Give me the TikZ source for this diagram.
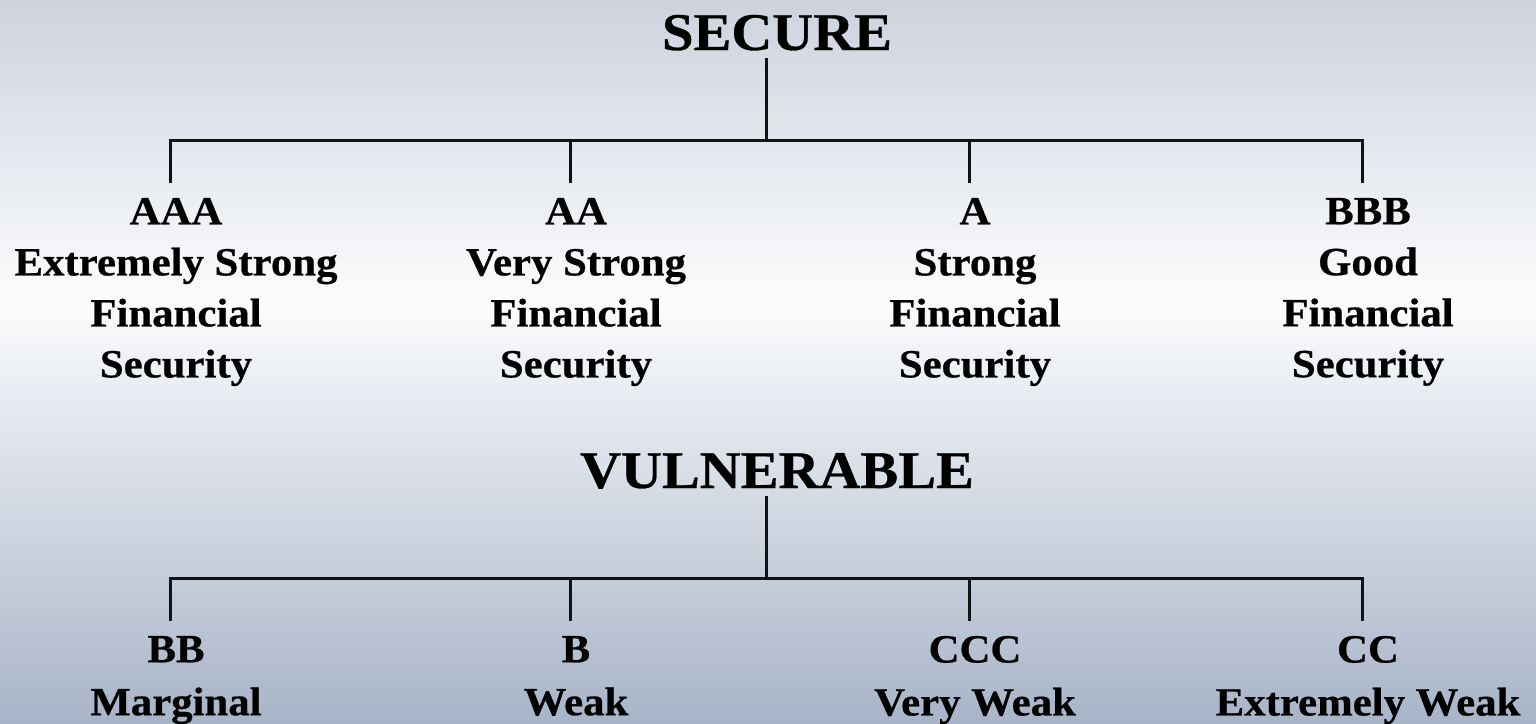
\documentclass[tikz,border=0pt]{standalone}
\usepackage{fontspec}
\setmainfont{Liberation Serif}[BoldFeatures={FakeStretch=1.07,FakeBold=0.6}]
\definecolor{bgtop}{HTML}{CDD3DE}
\definecolor{bgmid}{HTML}{FBFCFD}
\definecolor{bgbot}{HTML}{A8B4C8}
\definecolor{linec}{HTML}{111111}
\begin{document}
\begin{tikzpicture}[x=1pt,y=-1pt,
  header/.style={font=\fontsize{53}{60}\selectfont\bfseries, inner sep=0pt, outer sep=0pt, anchor=base},
  rating/.style={font=\fontsize{40}{51}\selectfont\bfseries, align=center, inner xsep=0pt, inner ysep=15pt, outer sep=0pt, anchor=north},
  ratingb/.style={rating, font=\fontsize{40}{53}\selectfont\bfseries},
  conn/.style={draw=linec, line width=3pt}]
\useasboundingbox (0,0) rectangle (1536,723);
\shade[top color=bgtop, bottom color=bgmid] (0,0) rectangle (1536,300);
\shade[top color=bgmid, bottom color=bgbot] (0,300) rectangle (1536,723);

% SECURE tree
\node[header] (secure) at (777,50) {SECURE};
\coordinate (secstem) at (766,58);
\coordinate (sbar) at (766,140);
\node[rating] (aaa) at (176,183) {AAA\\Extremely Strong\\Financial\\Security};
\node[rating] (aa) at (576,183) {AA\\Very Strong\\Financial\\Security};
\node[rating] (a) at (975,183) {A\\Strong\\Financial\\Security};
\node[rating] (bbb) at (1368,183) {BBB\\Good\\Financial\\Security};
\draw[conn] (secstem) -- (sbar);
\draw[conn] (sbar) -| ([xshift=-6pt]aaa.north);
\draw[conn] (sbar) -| ([xshift=-6pt]aa.north);
\draw[conn] (sbar) -| ([xshift=-6pt]a.north);
\draw[conn] (sbar) -| ([xshift=-6pt]bbb.north);

% VULNERABLE tree
\node[header] (vuln) at (777,488) {VULNERABLE};
\coordinate (vulstem) at (766,496);
\coordinate (vbar) at (766,578);
\node[ratingb] (bb) at (176,621) {BB\\Marginal};
\node[ratingb] (b) at (576,621) {B\\Weak};
\node[ratingb] (ccc) at (975,621) {CCC\\Very Weak};
\node[ratingb] (cc) at (1368,621) {CC\\Extremely Weak};
\draw[conn] (vulstem) -- (vbar);
\draw[conn] (vbar) -| ([xshift=-6pt]bb.north);
\draw[conn] (vbar) -| ([xshift=-6pt]b.north);
\draw[conn] (vbar) -| ([xshift=-6pt]ccc.north);
\draw[conn] (vbar) -| ([xshift=-6pt]cc.north);
\end{tikzpicture}
\end{document}
